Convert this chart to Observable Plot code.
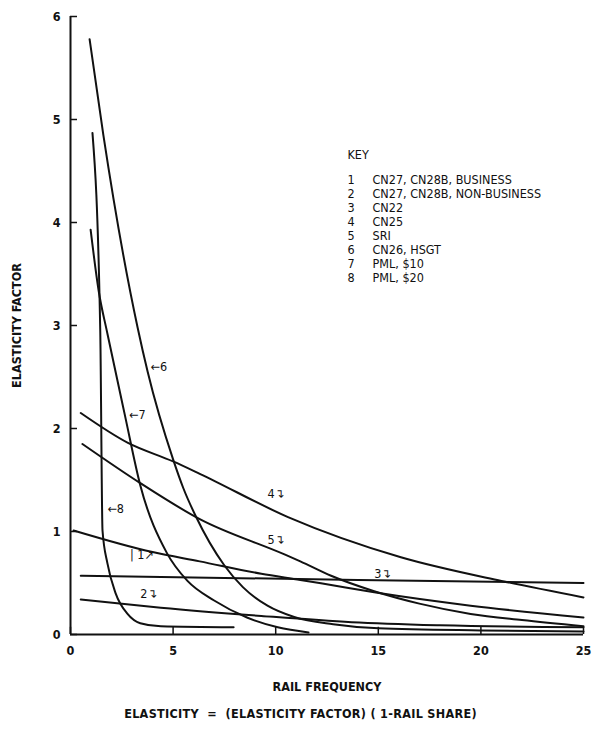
<!DOCTYPE html>
<html>
<head>
<meta charset="utf-8">
<script src="https://cdn.jsdelivr.net/npm/d3@7"></script>
<script src="https://cdn.jsdelivr.net/npm/@observablehq/plot@0.6"></script>
<style>
  body { margin: 0; background: #fff; }
  #chart { width: 601px; }
  .caption { width: 601px; text-align: center; font-family: "DejaVu Sans Condensed", "Liberation Sans Narrow", sans-serif; font-size: 12.5px; font-weight: bold; color: #111; margin-top: 6px; letter-spacing: 0.3px; }
</style>
</head>
<body>
<div id="chart"></div>
<div class="caption">ELASTICITY&nbsp; = &nbsp;(ELASTICITY FACTOR) ( 1-RAIL SHARE)</div>
<script>
// --- data ---
const xTicks = [0, 5, 10, 15, 20, 25];
const yTicks = [0, 1, 2, 3, 4, 5, 6];

const curve1 = [[0.15,1.01],[4.0,0.80],[6.3,0.71],[9.3,0.59],[11.2,0.53],[12.7,0.48],[14.8,0.41],[19.5,0.28],[25,0.165]];
const curve2 = [[0.5,0.34],[4.4,0.26],[9.3,0.18],[13.7,0.12],[18,0.09],[25,0.07]];
const curve3 = [[0.5,0.57],[14,0.53],[25,0.50]];
const curve4 = [[0.5,2.15],[2.8,1.86],[5.0,1.68],[6.3,1.56],[10.6,1.14],[16.1,0.75],[21,0.52],[25,0.36]];
const curve5 = [[0.58,1.85],[3.4,1.47],[6.3,1.12],[10.4,0.78],[11.2,0.71],[12.7,0.57],[14.8,0.42],[17,0.30],[19.5,0.20],[22,0.14],[25,0.08]];
const curve6 = [[0.93,5.78],[1.6,4.85],[3.27,2.98],[3.76,2.55],[5.0,1.7],[5.5,1.42],[6.1,1.15],[7.5,0.67],[8.4,0.46],[9.6,0.28],[10.9,0.17],[12.8,0.10],[15,0.06],[20,0.04],[25,0.03]];
const curve7 = [[0.98,3.93],[1.37,3.34],[1.8,2.92],[2.65,2.13],[3.4,1.45],[4.7,0.79],[5.7,0.52],[7.0,0.33],[8.6,0.165],[10.1,0.07],[11.6,0.02]];
const curve8 = [[1.07,4.87],[1.45,2.95],[1.56,1.01],[1.8,0.69],[2.2,0.40],[2.78,0.20],[3.4,0.11],[4.4,0.08],[7.95,0.07]];

const curveIds = ["1","2","3","4","5","6","7","8"];
const curveData = [curve1, curve2, curve3, curve4, curve5, curve6, curve7, curve8];

const keyNumbers = ["1","2","3","4","5","6","7","8"];
const keyNames = ["CN27, CN28B, BUSINESS","CN27, CN28B, NON-BUSINESS","CN22","CN25","SRI","CN26, HSGT","PML, $10","PML, $20"];

// curve call-out labels, placed next to their curves
const calloutText = ["←6","←7","←8","4↴","5↴","3↴","| 1↗","2↴"];
const calloutX = [3.9, 2.85, 1.8, 9.6, 9.6, 14.8, 2.9, 3.4];
const calloutY = [2.6, 2.13, 1.22, 1.36, 0.92, 0.59, 0.77, 0.39];

// --- build table ---
const rows = [];
curveData.forEach((pts, i) => pts.forEach(([x, y]) => rows.push({id: curveIds[i], x, y})));
const callouts = calloutText.map((t, i) => ({t, x: calloutX[i], y: calloutY[i]}));

const font = "'DejaVu Sans Condensed', 'Liberation Sans Narrow', sans-serif";
const tickLenX = 0.07;  // inward tick length for x ticks (y units)
const tickLenY = 0.34;  // inward tick length for y ticks (x units)

const chart = Plot.plot({
  width: 601,
  height: 700,
  marginLeft: 70,
  marginRight: 18,
  marginTop: 16,
  marginBottom: 66,
  style: {fontFamily: font, fontSize: "12px", color: "#111", background: "#fff"},
  x: {domain: [0, 25]},
  y: {domain: [0, 6]},
  marks: [
    Plot.axisX({ticks: xTicks, tickSize: 0, tickPadding: 12, tickFormat: d3.format("d"), fontWeight: "bold", fontSize: 12.5, label: "RAIL FREQUENCY", labelAnchor: "center", labelOffset: 56, labelArrow: "none"}),
    Plot.axisY({ticks: yTicks, tickSize: 0, tickPadding: 10, tickFormat: d3.format("d"), fontWeight: "bold", fontSize: 12.5, label: "ELASTICITY FACTOR", labelAnchor: "center", labelOffset: 58, labelArrow: "none"}),
    Plot.ruleX(xTicks, {x: d => d, y1: 0, y2: tickLenX, stroke: "#111", strokeWidth: 1.5}),
    Plot.ruleY(yTicks, {y: d => d, x1: 0, x2: tickLenY, stroke: "#111", strokeWidth: 1.5}),
    Plot.ruleX([0], {y1: 0, y2: 6, stroke: "#111", strokeWidth: 2}),
    Plot.ruleY([0], {stroke: "#111", strokeWidth: 2}),
    Plot.line(rows, {x: "x", y: "y", z: "id", stroke: "#111", strokeWidth: 2, curve: "monotone-x"}),
    Plot.text(callouts, {x: "x", y: "y", text: "t", textAnchor: "start", fontSize: 12.5, fill: "#111"}),
    Plot.text(["KEY"], {text: d => d, frameAnchor: "top-left", dx: 277, dy: 134, fontSize: 12.5, textAnchor: "start", lineAnchor: "top"}),
    Plot.text([keyNumbers.join("\n")], {text: d => d, frameAnchor: "top-left", dx: 277, dy: 158, fontSize: 12.5, lineHeight: 1.12, textAnchor: "start", lineAnchor: "top"}),
    Plot.text([keyNames.join("\n")], {text: d => d, frameAnchor: "top-left", dx: 302, dy: 158, fontSize: 12.5, lineHeight: 1.12, textAnchor: "start", lineAnchor: "top"})
  ]
});
document.getElementById("chart").appendChild(chart);
</script>
</body>
</html>
